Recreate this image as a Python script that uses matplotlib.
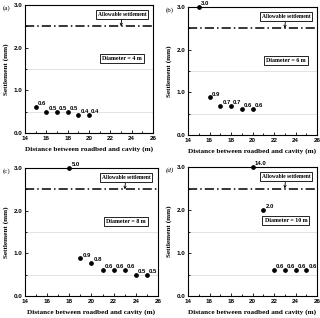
import numpy as np
import matplotlib
matplotlib.use('Agg')
import matplotlib.pyplot as plt
from matplotlib.ticker import MultipleLocator

plt.rcParams['font.family'] = 'sans-serif'
plt.rcParams['font.sans-serif'] = ['Liberation Sans']

# distance (m) and settlement (mm) for each cavity diameter
x_a = [15, 16, 17, 18, 19, 20]
y_a = [0.6, 0.5, 0.5, 0.5, 0.43, 0.43]
x_b = [15, 16, 17, 18, 19, 20]
y_b = [3.0, 0.88, 0.69, 0.69, 0.6, 0.6]
x_c = [18, 19, 20, 21, 22, 23, 24, 25]
y_c = [5.0, 0.88, 0.78, 0.6, 0.6, 0.6, 0.5, 0.5]
x_d = [20, 21, 22, 23, 24, 25]
y_d = [14.0, 2.0, 0.6, 0.6, 0.6, 0.6]

panels = [
    ('(a)', 'Diameter = 4 m', x_a, y_a, [25, 133, 153, 5]),
    ('(b)', 'Diameter = 6 m', x_b, y_b, [188, 135, 317, 7]),
    ('(c)', 'Diameter = 8 m', x_c, y_c, [25, 296, 158, 168]),
    ('(d)', 'Diameter = 10 m', x_d, y_d, [188, 296, 317, 167]),
]
allowable = 2.5
ymax = 3.0

W, H = 320, 318
fig = plt.figure(figsize=(W / 100, H / 100), dpi=100)
serif = 'Liberation Serif'

for tag, diam, xs, ys, (l, b, r, t) in panels:
    ax = fig.add_axes([l / W, 1 - b / H, (r - l) / W, (b - t) / H])
    ax.set_xlim(14, 26)
    ax.set_ylim(0, ymax)
    for yy in (0.5, 1.5):
        ax.axhline(yy, color='#d8d8d8', lw=0.5, zorder=0)
    ax.axhline(allowable, color='black', lw=1.1, ls=(0, (6, 2, 1, 2)), zorder=1)

    yplot = np.minimum(ys, ymax)
    ax.plot(xs, yplot, 'o', color='black', ms=2.4, clip_on=False, zorder=3)
    for xv, yv, yp in zip(xs, ys, yplot):
        ax.text(xv + 0.2, yp + 0.08, '%.1f' % yv, fontsize=4.3, fontweight='bold',
                ha='left', va='center', clip_on=False)

    ax.annotate('Allowable settlement', xy=(23, allowable), xytext=(23.1, 2.77),
                ha='center', va='center', fontsize=4, fontweight='bold', family=serif,
                bbox=dict(boxstyle='square,pad=0.35', fc='white', ec='black', lw=0.6),
                arrowprops=dict(arrowstyle='->', lw=0.6, color='black', shrinkA=0, shrinkB=0))
    ax.text(23.1, 1.75, diam, ha='center', va='center', fontsize=4.3, fontweight='bold',
            family=serif,
            bbox=dict(boxstyle='square,pad=0.35', fc='white', ec='black', lw=0.6))

    ax.xaxis.set_major_locator(MultipleLocator(2))
    ax.xaxis.set_minor_locator(MultipleLocator(1))
    ax.yaxis.set_major_locator(MultipleLocator(1))
    ax.yaxis.set_minor_locator(MultipleLocator(0.5))
    ax.yaxis.set_major_formatter(matplotlib.ticker.FormatStrFormatter('%.1f'))
    ax.tick_params(which='both', direction='in', labelsize=4.5, width=0.6, pad=2)
    ax.tick_params(which='major', length=2.5)
    ax.tick_params(which='minor', length=1.5)
    for lab in ax.get_xticklabels() + ax.get_yticklabels():
        lab.set_fontweight('bold')
    for s in ax.spines.values():
        s.set_linewidth(0.8)

    ax.set_xlabel('Distance between roadbed and cavity (m)', family=serif,
                  fontweight='bold', fontsize=5.2, labelpad=4)
    ax.set_ylabel('Settlement (mm)', family=serif, fontweight='bold', fontsize=5.2,
                  labelpad=3)
    fig.text((l - 22) / W, 1 - (t + 3) / H, tag, family=serif, fontsize=5,
             style='italic' if tag == '(d)' else 'normal', va='center', ha='left')

fig.savefig('out.png', dpi=100)
